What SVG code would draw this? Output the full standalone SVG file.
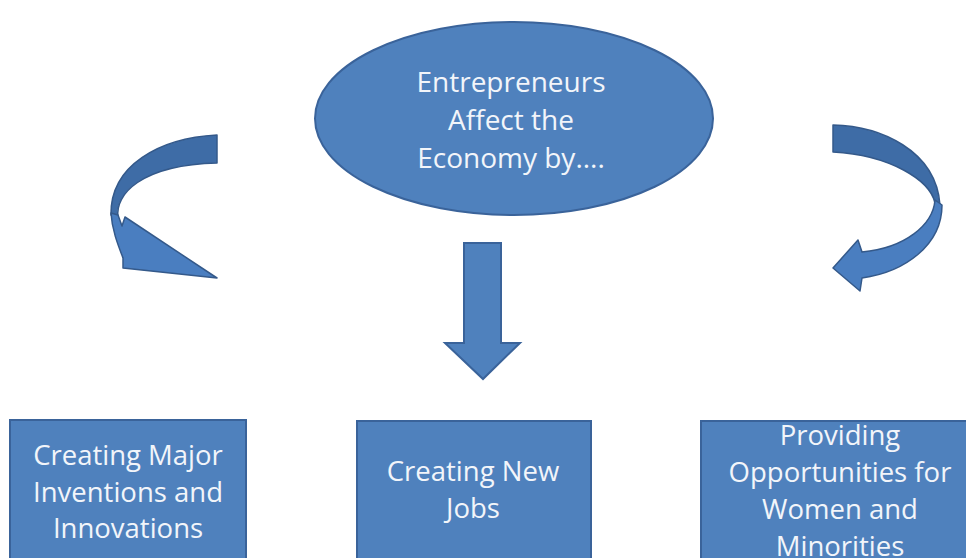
<svg xmlns="http://www.w3.org/2000/svg" width="966" height="558" viewBox="0 0 966 558">
<style>
.shape{fill:#4F81BD;stroke:#3A639A;stroke-width:2}
.dark{fill:#3E6CA6;stroke:#34598A;stroke-width:1.5;stroke-linejoin:round}
.light{fill:#4A7EC0;stroke:#34598A;stroke-width:1.5;stroke-linejoin:round}
.lbl{font-family:"Open Sans","Liberation Sans",sans-serif;fill:#F2F5FA;text-anchor:middle}
.e{font-size:28px}
.b{font-size:27.5px}
</style>
<rect width="966" height="558" fill="#FFFFFF"/>
<g id="center">
<ellipse class="shape" cx="514" cy="118.5" rx="199" ry="96.5"/>
<text class="lbl e" x="511" y="92">Entrepreneurs</text>
<text class="lbl e" x="511" y="130">Affect the</text>
<text class="lbl e" x="511" y="168">Economy by....</text>
</g>
<g id="connectors">
<path class="dark" d="M217,135 C160,138 110,165 111,215 L118,217 C115,195 140,165 217,163 Z"/>
<path class="light" d="M111,213 C112,230 118,245 123,258 L123,268 L217,278 L125,217 L122,226 L118,215 Z"/>
<path class="shape" d="M464,243 L501,243 L501,343 L520,343 L483,379 L445,343 L464,343 Z"/>
<path class="dark" d="M833,125 C880,126 936,150 940,205 L935,203 C930,180 890,155 833,152 Z"/>
<path class="light" d="M935,200 C933,225 905,248 862,252 L858,240 L833,268 L860,291 L862,278 C905,272 942,245 942,205 Z"/>
</g>
<g id="inventions">
<rect class="shape" x="10" y="420" width="236" height="150"/>
<text class="lbl b" x="128" y="465">Creating Major</text>
<text class="lbl b" x="128" y="502">Inventions and</text>
<text class="lbl b" x="128" y="538">Innovations</text>
</g>
<g id="jobs">
<rect class="shape" x="357" y="421" width="234" height="150"/>
<text class="lbl b" x="473" y="481">Creating New</text>
<text class="lbl b" x="473" y="518">Jobs</text>
</g>
<g id="opportunities">
<rect class="shape" x="701" y="421" width="280" height="150"/>
<text class="lbl b" x="840" y="445">Providing</text>
<text class="lbl b" x="840" y="482">Opportunities for</text>
<text class="lbl b" x="840" y="519">Women and</text>
<text class="lbl b" x="840" y="556">Minorities</text>
</g>
</svg>
